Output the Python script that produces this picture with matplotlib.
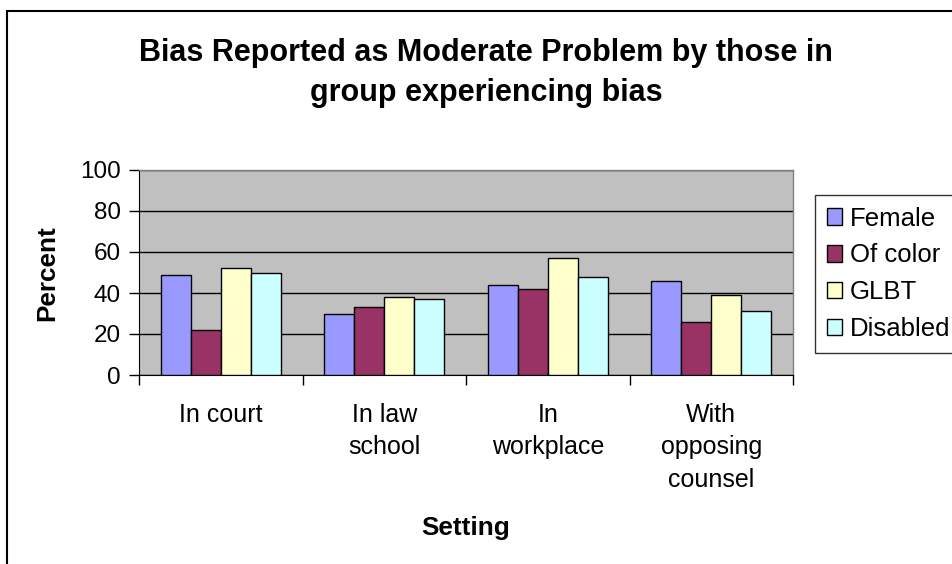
import matplotlib
matplotlib.use("Agg")
import matplotlib.pyplot as plt
import numpy as np
from matplotlib.patches import Rectangle

plt.rcParams['font.family'] = ['Liberation Sans', 'DejaVu Sans']

categories = ["In court", "In law\nschool", "In\nworkplace", "With\nopposing\ncounsel"]
series_names = ["Female", "Of color", "GLBT", "Disabled"]
female = [49, 30, 44, 46]
of_color = [22, 33, 42, 26]
glbt = [52, 38, 57, 39]
disabled = [50, 37, 48, 31]
colors = ["#9999FF", "#993366", "#FFFFCC", "#CCFFFF"]
yticks = [0, 20, 40, 60, 80, 100]

W, H = 952, 564
fig = plt.figure(figsize=(W / 100, H / 100), dpi=100)

def px(x0, y0, x1, y1):
    return [x0 / W, 1 - y1 / H, (x1 - x0) / W, (y1 - y0) / H]

# figure border
fig.patches.append(Rectangle((6.5 / W, -0.05), 1.1, 1 - 10.5 / H + 0.05,
                             transform=fig.transFigure, fill=False,
                             edgecolor="black", linewidth=1.5))

ax = fig.add_axes(px(139, 170, 793, 375))
ax.set_facecolor("#C0C0C0")

data = [female, of_color, glbt, disabled]
x = np.arange(len(categories))
bw = 0.1835
for i, (vals, name, c) in enumerate(zip(data, series_names, colors)):
    ax.bar(x + (i - 1.5) * bw, vals, width=bw, color=c, edgecolor="black",
           linewidth=1.0, label=name, zorder=3)

ax.set_xlim(-0.5, len(categories) - 0.5)
ax.set_ylim(0, 100)
ax.set_yticks(yticks)
ax.set_yticklabels([str(v) for v in yticks], fontsize=17.5)
ax.yaxis.grid(True, color="black", linewidth=1.0, zorder=1)
ax.set_axisbelow(True)

ax.set_xticks(np.arange(len(categories) + 1) - 0.5)
ax.set_xticklabels([])
ax.set_xticks(x, minor=True)
ax.set_xticklabels(categories, minor=True, fontsize=18, linespacing=1.45)
ax.tick_params(axis='x', which='minor', length=0, pad=20)
ax.tick_params(axis='x', which='major', length=7, direction='out', width=1)
ax.tick_params(axis='y', length=7, direction='out', width=1, pad=6)

for s in ["top", "right"]:
    ax.spines[s].set_color("#808080")
    ax.spines[s].set_linewidth(1.0)
ax.spines["left"].set_color("black")
ax.spines["bottom"].set_color("black")

fig.text(47 / W, 1 - 273 / H, "Percent", rotation=90, fontsize=18.8,
         fontweight="bold", ha="center", va="center")
fig.text(466 / W, 1 - 528 / H, "Setting", fontsize=18.8, fontweight="bold",
         ha="center", va="center")
fig.text(486 / W, 1 - 73 / H,
         "Bias Reported as Moderate Problem by those in\ngroup experiencing bias",
         fontsize=22, fontweight="bold", ha="center", va="center",
         linespacing=1.45)

leg = fig.legend(loc="upper left", bbox_to_anchor=(815 / W, 1 - 195 / H),
                 fontsize=18.5, frameon=True, fancybox=False,
                 handlelength=0.6, handleheight=0.6, handletextpad=0.3,
                 labelspacing=0.5, borderpad=0.45, borderaxespad=0,
                 edgecolor="black")
leg.get_frame().set_linewidth(1.0)

fig.savefig("out.png", dpi=100)
